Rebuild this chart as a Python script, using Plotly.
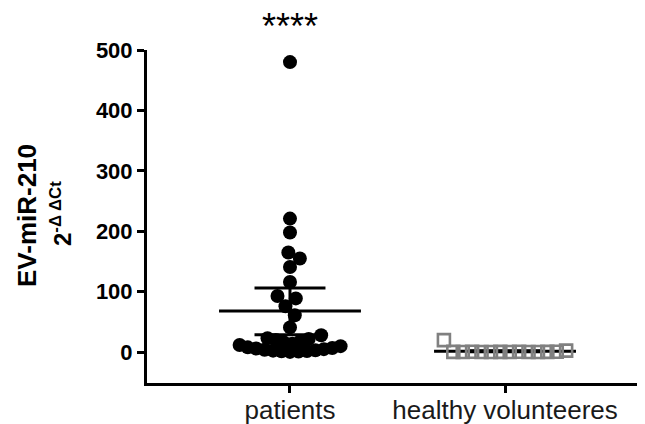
import numpy as np
import plotly.graph_objects as go

# ---------------- data ----------------
categories = ["patients", "healthy volunteeres"]
patients = [480, 221, 198, 165, 155, 141, 116, 93, 89, 76, 61, 41, 28, 23,
            22, 20, 18, 16, 14, 12, 10, 8, 7, 6, 5, 4, 3, 2.5, 2, 1.5, 1, 0.5]
healthy = [20, 0.5, 0.3, 0.6, 0.2, 0.4, 0.5, 0.3, 0.6, 0.4, 0.2, 0.5, 0.7, 2.5]
group_mean = [68, 1.5]
err_low = [29, 0.8]
err_high = [106, 2.2]
y_ticks = [0, 100, 200, 300, 400, 500]
significance = "****"

# ---------------- layout geometry ----------------
# the page body has an 8px default margin; size the figure so that the
# plot area lands at the reference position inside the 645x424 window
BODY = 8
W, H = 645 - BODY, 424 - BODY
ML, MR, MT, MB = 147 - BODY, 0, 50 - BODY, 41
Y_RANGE = [-51, 500]
X_RANGE = [-0.665, 1.651]
plot_w = W - ML - MR
plot_h = H - MT - MB
px_per_x = plot_w / (X_RANGE[1] - X_RANGE[0])
px_per_y = plot_h / (Y_RANGE[1] - Y_RANGE[0])

MARKER_D = 13.0      # circle diameter used for collision (px)
BASE_ROW = 14.0      # crowded baseline row (px) is packed tighter
BASE_D = 8.5


def swarm_offsets(vals):
    """Beeswarm in pixel space; returns x offsets in axis units."""
    vals = np.asarray(vals, float)
    order = np.argsort(vals, kind="stable")
    placed = []
    offs = np.zeros(len(vals))

    def dist_needed(y1, y2):
        if y1 < BASE_ROW and y2 < BASE_ROW:
            return BASE_D
        return MARKER_D

    for i in order:
        y = vals[i] * px_per_y
        cands = [0.0]
        for (px, py) in placed:
            d = dist_needed(y, py)
            dy = abs(py - y)
            if dy < d:
                dx = np.sqrt(d * d - dy * dy)
                cands += [px - dx, px + dx]
        cands.sort(key=lambda c: (abs(c), -c))
        for c in cands:
            ok = all((c - px) ** 2 + (y - py) ** 2 >= dist_needed(y, py) ** 2 - 1e-6
                     for px, py in placed)
            if ok:
                offs[i] = c
                break
        placed.append((offs[i], y))
    return offs / px_per_x


def row_offsets(n, spacing_px):
    return (np.arange(n) - (n - 1) / 2) * spacing_px / px_per_x


pat_x = 0 + swarm_offsets(patients)
hv_x = 1 + row_offsets(len(healthy), 9.4)

fig = go.Figure()

# mean + error bars
MEAN_HALF = 0.33
CAP_HALF = 0.165
for gi in range(len(categories)):
    xs = [gi - MEAN_HALF, gi + MEAN_HALF, None,
          gi, gi, None,
          gi - CAP_HALF, gi + CAP_HALF, None,
          gi - CAP_HALF, gi + CAP_HALF]
    ys = [group_mean[gi], group_mean[gi], None,
          err_low[gi], err_high[gi], None,
          err_low[gi], err_low[gi], None,
          err_high[gi], err_high[gi]]
    fig.add_trace(go.Scatter(x=xs, y=ys, mode="lines",
                             line=dict(color="black", width=3),
                             hoverinfo="skip", showlegend=False))

fig.add_trace(go.Scatter(
    x=pat_x, y=patients, mode="markers", name=categories[0],
    marker=dict(symbol="circle", size=14, color="black", line=dict(width=0)),
    showlegend=False, cliponaxis=False))

fig.add_trace(go.Scatter(
    x=hv_x, y=healthy, mode="markers", name=categories[1],
    marker=dict(symbol="square-open", size=12, color="#808080",
                line=dict(width=2.6, color="#808080")),
    showlegend=False, cliponaxis=False))

fig.update_layout(
    width=W, height=H,
    margin=dict(l=ML, r=MR, t=MT, b=MB, pad=0, autoexpand=False),
    paper_bgcolor="white", plot_bgcolor="white",
    font=dict(family="Liberation Sans, Arial, sans-serif", color="black"),
    xaxis=dict(range=X_RANGE, tickvals=[0, 1], ticktext=categories,
               showgrid=False, zeroline=False, showline=True,
               linecolor="black", linewidth=3, automargin=False,
               ticks="outside", ticklen=7, tickwidth=3, tickcolor="black",
               ticklabelstandoff=-5,
               tickfont=dict(size=26, color="#1a1a1a")),
    yaxis=dict(range=Y_RANGE, tickvals=y_ticks,
               showgrid=False, zeroline=False, showline=True,
               linecolor="black", linewidth=3, automargin=False,
               ticks="outside", ticklen=7, tickwidth=3, tickcolor="black",
               tickfont=dict(size=22, color="black", weight="bold")),
)

fig.add_annotation(
    text="<b>EV-miR-210</b>", textangle=-90, showarrow=False,
    xref="paper", yref="paper",
    x=(27 - BODY - ML) / plot_w, y=(H - MB - (216 - BODY)) / plot_h,
    xanchor="center", yanchor="middle",
    font=dict(size=26, color="black"))

fig.add_annotation(
    text="<b>2<sup>-\u0394 \u0394Ct</sup></b>", textangle=-90, showarrow=False,
    xref="paper", yref="paper",
    x=(61 - BODY - ML) / plot_w, y=(H - MB - (214 - BODY)) / plot_h,
    xanchor="center", yanchor="middle",
    font=dict(size=24, color="black"))

fig.add_annotation(
    text=significance, showarrow=False,
    xref="x", yref="paper",
    x=0, y=(H - MB - (27 - BODY)) / plot_h,
    xanchor="center", yanchor="middle",
    font=dict(size=36, color="black"))

fig.write_html("out.html")
